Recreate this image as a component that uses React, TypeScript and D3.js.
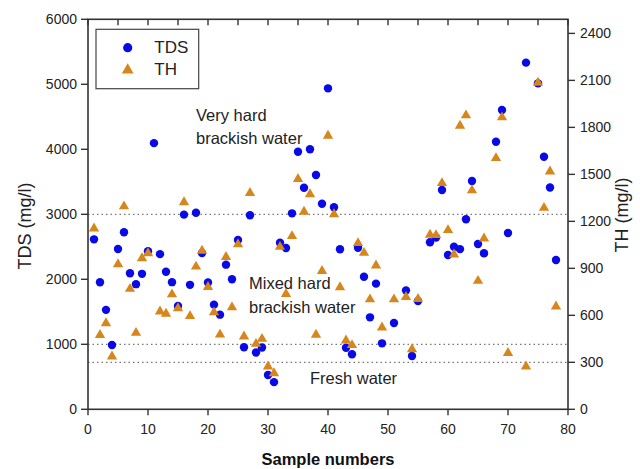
import React from "react";
import * as d3 from "d3";

const sampleNo = [1,2,3,4,5,6,7,8,9,10,11,12,13,14,15,16,17,18,19,20,21,22,23,24,25,26,27,28,29,30,31,32,33,34,35,36,37,38,39,40,41,42,43,44,45,46,47,48,49,51,53,54,55,57,58,59,60,61,62,63,64,65,66,68,69,70,73,75,76,77,78];
const tdsValues = [2615,1955,1530,990,2466,2723,2092,1925,2084,2433,4095,2387,2117,1956,1590,2995,1915,3025,2405,1950,1610,1456,2225,2000,2605,954,2985,874,951,528,418,2563,2482,3015,3963,3409,4000,3605,3163,4938,3108,2462,948,848,2486,2040,1415,1933,1015,1328,1830,820,1666,2569,2643,3374,2374,2502,2464,2925,3512,2543,2400,4117,4605,2712,5333,5015,3886,3412,2297];
const thValues: (number | null)[] = [1160,480,555,342,931,1301,774,493,970,1002,null,630,615,739,650,1327,600,916,1018,786,624,482,978,656,1058,470,1386,423,455,278,235,1042,741,1111,1476,1267,1378,481,888,1752,1250,784,444,415,1066,1004,707,923,528,707,722,389,709,1120,1117,1449,1149,993,1816,1882,1403,825,1096,1609,1869,365,279,2090,1291,1523,662];

const xTicks = [0,10,20,30,40,50,60,70,80];
const xTopTicks = [0,5,10,15,20,25,30,35,40,45,50,55,60,65,70,75,80];
const tdsTicks = [0,1000,2000,3000,4000,5000,6000];
const thTicks = [0,300,600,900,1200,1500,1800,2100,2400];
const tdsRefLines = [3000, 1000];
const thRefLines = [300];

const W = 640, H = 469;
const M = { left: 88, right: 568, top: 19.3, bottom: 409.3 };
const FONT = "'Liberation Sans', Arial, sans-serif";
const BLUE = "#0a0ae6";
const ORANGE = "#d6861a";
const AXIS = "#333";

export default function App() {
  const x = d3.scaleLinear().domain([0, 80]).range([M.left, M.right]);
  const yL = d3.scaleLinear().domain([0, 6000]).range([M.bottom, M.top]);
  const yR = d3.scaleLinear().domain([0, 2490]).range([M.bottom, M.top]);
  const tri = d3.symbol().type(d3.symbolTriangle).size(46)();
  const triLegend = d3.symbol().type(d3.symbolTriangle).size(60)();

  return (
    <svg width={W} height={H} style={{ position: "absolute", left: 0, top: 0, background: "#fff" }} fontFamily={FONT}>
      <rect x={0} y={0} width={W} height={H} fill="#fff" />
      {/* reference lines */}
      {tdsRefLines.map((v) => (
        <line key={"t" + v} x1={M.left} x2={M.right} y1={yL(v)} y2={yL(v)} stroke="#777" strokeWidth={1.2} strokeDasharray="1.5,3" />
      ))}
      {thRefLines.map((v) => (
        <line key={"h" + v} x1={M.left} x2={M.right} y1={yR(v)} y2={yR(v)} stroke="#777" strokeWidth={1.2} strokeDasharray="1.5,3" />
      ))}
      {/* annotations */}
      <g fontSize={16.5} fill="#222">
        <text x={196} y={115} dominantBaseline="central">Very hard</text>
        <text x={196} y={138} dominantBaseline="central">brackish water</text>
        <text x={249} y={283} dominantBaseline="central">Mixed hard</text>
        <text x={249} y={307} dominantBaseline="central">brackish water</text>
        <text x={310} y={378} dominantBaseline="central">Fresh water</text>
      </g>
      {/* TDS points */}
      {sampleNo.map((s, i) => (
        <circle key={"c" + s} cx={x(s)} cy={yL(tdsValues[i])} r={4.2} fill={BLUE} />
      ))}
      {/* TH points */}
      {sampleNo.map((s, i) =>
        thValues[i] == null ? null : (
          <path key={"p" + s} d={tri as string} transform={`translate(${x(s)},${yR(thValues[i] as number) + 0.8})`} fill={ORANGE} />
        )
      )}
      {/* frame */}
      <rect x={M.left} y={M.top} width={M.right - M.left} height={M.bottom - M.top} fill="none" stroke={AXIS} strokeWidth={1.6} />
      {/* bottom axis */}
      {xTicks.map((t) => (
        <g key={"xb" + t}>
          <line x1={x(t)} x2={x(t)} y1={M.bottom} y2={M.bottom + 6} stroke={AXIS} strokeWidth={1.4} />
          <text x={x(t)} y={429} textAnchor="middle" dominantBaseline="central" fontSize={14} fill="#222">{t}</text>
        </g>
      ))}
      {/* top ticks */}
      {xTopTicks.map((t) => (
        <line key={"xt" + t} x1={x(t)} x2={x(t)} y1={M.top} y2={M.top + 6} stroke={AXIS} strokeWidth={1.4} />
      ))}
      {/* left axis */}
      {tdsTicks.map((t) => (
        <g key={"yl" + t}>
          <line x1={M.left - 7} x2={M.left} y1={yL(t)} y2={yL(t)} stroke={AXIS} strokeWidth={1.4} />
          <text x={77} y={yL(t)} textAnchor="end" dominantBaseline="central" fontSize={14} fill="#222">{t}</text>
        </g>
      ))}
      {/* right axis */}
      {thTicks.map((t) => (
        <g key={"yr" + t}>
          <line x1={M.right} x2={M.right + 7} y1={yR(t)} y2={yR(t)} stroke={AXIS} strokeWidth={1.4} />
          <text x={580} y={yR(t)} textAnchor="start" dominantBaseline="central" fontSize={14} fill="#222">{t}</text>
        </g>
      ))}
      {/* axis titles */}
      <text transform="translate(25,226) rotate(-90)" textAnchor="middle" dominantBaseline="central" fontSize={18} fill="#222">TDS (mg/l)</text>
      <text transform="translate(622,215) rotate(-90)" textAnchor="middle" dominantBaseline="central" fontSize={18} fill="#222">TH (mg/l)</text>
      <text x={328} y={459} textAnchor="middle" dominantBaseline="central" fontSize={16.5} fontWeight="bold" fill="#111">Sample numbers</text>
      {/* legend */}
      <rect x={96} y={29.3} width={102.7} height={59.4} fill="#fff" stroke="#444" strokeWidth={1.2} />
      <circle cx={127.7} cy={47.7} r={4.6} fill={BLUE} />
      <text x={154.3} y={47.7} dominantBaseline="central" fontSize={17} fill="#222">TDS</text>
      <path d={triLegend as string} transform="translate(127.7,70)" fill={ORANGE} />
      <text x={154.3} y={69.3} dominantBaseline="central" fontSize={17} fill="#222">TH</text>
    </svg>
  );
}
